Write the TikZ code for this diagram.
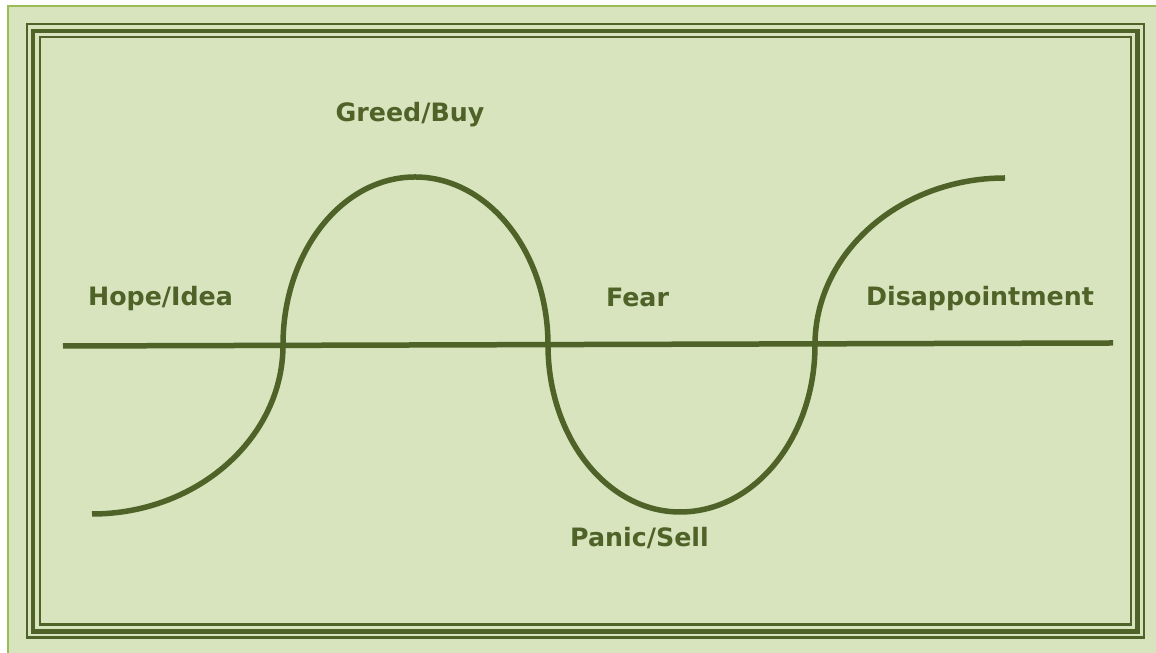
\documentclass[tikz,border=0pt]{standalone}
\usepackage{xcolor}
\usepackage{fontspec}
\setmainfont{DejaVu Sans}
\usepackage{tikz}
\usetikzlibrary{positioning}

\definecolor{olivedark}{HTML}{4F6228}
\definecolor{olivelight}{HTML}{D7E4BD}
\definecolor{oliveedge}{HTML}{9BBB59}

\begin{document}
\begin{tikzpicture}[x=0.1mm, y=-0.1mm, % one unit = one pixel, y downwards
          wave/.style={draw=olivedark, line width=0.55mm, line cap=butt},
          frameline/.style={draw=olivedark, line width=0.25mm},
          phase/.style={font=\bfseries\fontsize{7.2}{8}\selectfont, text=olivedark, anchor=base, inner sep=0pt}
        ]
        % Page and background
        \useasboundingbox (0,0) rectangle (1156,653);
        \fill[white] (0,0) rectangle (1156,653);
        \fill[olivelight] (8,6) rectangle (1170,670);
        \draw[oliveedge, line width=0.28mm] (8,670) -- (8,6) -- (1170,6);

        % Triple frame
        \draw[frameline] (27,24) rectangle (1144,637.5);
        \draw[frameline, line width=0.48mm] (33,31) rectangle (1137.5,631.5);
        \draw[frameline] (40,37) rectangle (1131,624.5);

        % Points of the cycle
        \coordinate (start)  at (92,514);
        \coordinate (cross1) at (283,345);
        \coordinate (peak)   at (415,177);
        \coordinate (cross2) at (548,345);
        \coordinate (trough) at (680,512);
        \coordinate (cross3) at (815,345);
        \coordinate (finish) at (1005,178);

        % Base line
        \coordinate (axisl) at (63,346);
        \coordinate (axisr) at (1113,343);
        \draw[wave] (axisl) -- (axisr);

        % The wave
        \draw[wave] (start) .. controls +(105,0) and +(0,93) .. (cross1)
                            .. controls +(0,-93) and +(-73,0) .. (peak)
                            .. controls +(73,0) and +(0,-93) .. (cross2)
                            .. controls +(0,92) and +(-73,0) .. (trough)
                            .. controls +(75,0) and +(0,92) .. (cross3)
                            .. controls +(0,-92) and +(-105,0) .. (finish);

        % Labels
        \node[phase] (hope)  at (160.5,306) {Hope/Idea};
        \node[phase] (greed) at (410,122)   {Greed/Buy};
        \node[phase] (fear)  at (637.5,307) {Fear};
        \node[phase] (panic) at (639.5,547) {Panic/Sell};
        \node[phase] (disap) at (980,306)   {Disappointment};

\end{tikzpicture}
\end{document}
